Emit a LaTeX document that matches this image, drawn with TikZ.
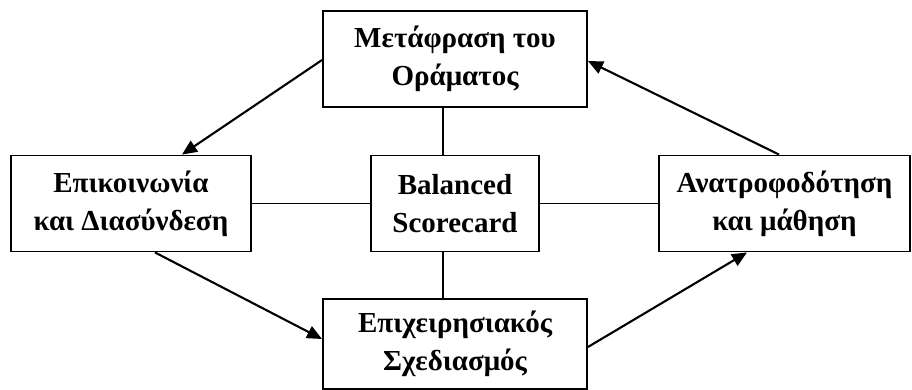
\documentclass[tikz,border=0pt]{standalone}
\usepackage{fontspec}
\setmainfont{Liberation Serif}
\usetikzlibrary{arrows.meta}
\begin{document}
\begin{tikzpicture}[x=1pt,y=-1pt,
  box/.style={draw=black,line width=1.9pt,fill=white,align=center,inner sep=0pt,
    font=\fontsize{29}{38}\selectfont\bfseries},
  link/.style={draw=black,line width=1.9pt},
  flow/.style={draw=black,line width=2.1pt,-{Triangle[length=15pt,width=13pt]}}]
\useasboundingbox (0,0) rectangle (912,390);

\node[box,minimum width=264pt,minimum height=96pt] (vision) at (455,59) {Μετάφραση του\\Οράματος};
\node[box,minimum width=240pt,minimum height=96pt] (comm) at (131,203.5) {Επικοινωνία\\και Διασύνδεση};
\node[box,minimum width=168pt,minimum height=96pt] (bsc) at (455,203.5) {Balanced\\Scorecard};
\node[box,minimum width=251pt,minimum height=96pt] (learn) at (784.5,203.5) {Ανατροφοδότηση\\και μάθηση};
\node[box,minimum width=264pt,minimum height=90pt] (plan) at (455,344) {Επιχειρησιακός\\Σχεδιασμός};

% plain links to the centre
\draw[link] ([xshift=-12pt]vision.south) -- ([xshift=-12pt]bsc.north);
\draw[link] ([xshift=-12pt]bsc.south) -- ([xshift=-12pt]plan.north);
\draw[link] (comm.east) -- (bsc.west);
\draw[link] (bsc.east) -- (learn.west);

% the cycle
\draw[flow] ([yshift=-1pt]vision.west) -- ([xshift=51pt]comm.north);
\draw[flow] ([xshift=24pt]comm.south) -- ([yshift=5pt]plan.west);
\draw[flow] ([yshift=-3pt]plan.east) -- ([xshift=-37.5pt]learn.south);
\draw[flow] ([xshift=-5.5pt]learn.north) -- ([yshift=-2pt]vision.east);
\end{tikzpicture}
\end{document}
